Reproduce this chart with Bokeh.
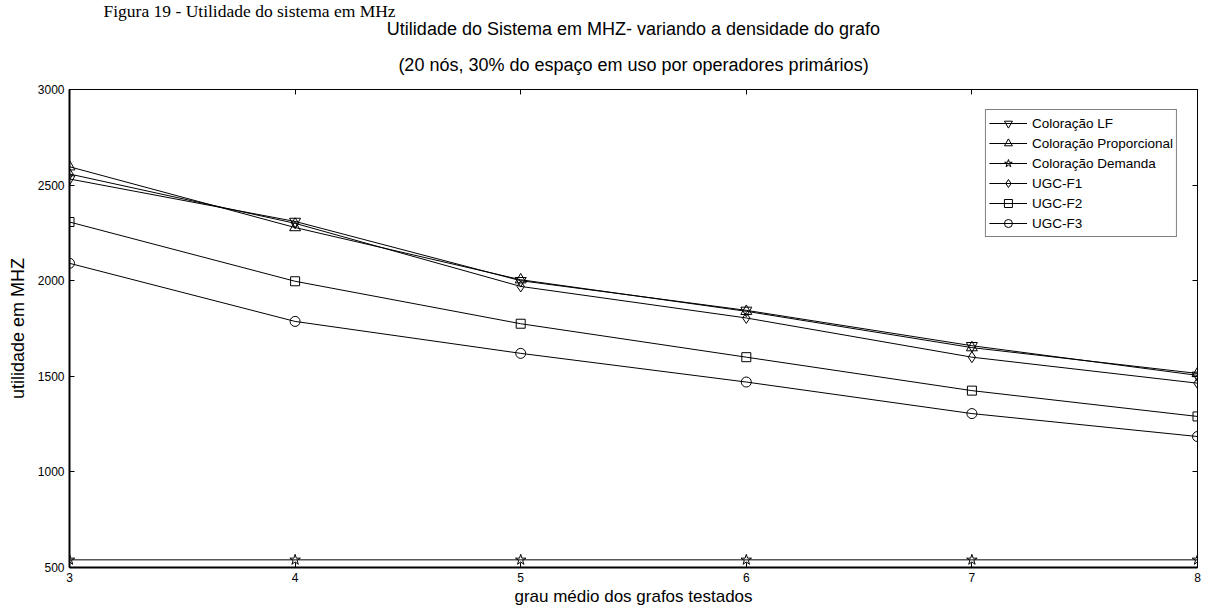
from bokeh.plotting import figure
from bokeh.models import Range1d, LinearAxis, Legend, LegendItem, FixedTicker, Title
from bokeh.embed import file_html
from bokeh.resources import INLINE

x = [3, 4, 5, 6, 7, 8]
lf = [2532, 2310, 2000, 1845, 1660, 1505]
prop = [2596, 2278, 2005, 1840, 1650, 1515]
demanda = [540, 540, 540, 540, 540, 540]
ugc_f1 = [2558, 2300, 1970, 1805, 1600, 1464]
ugc_f2 = [2307, 1997, 1775, 1600, 1425, 1290]
ugc_f3 = [2091, 1787, 1620, 1470, 1305, 1185]

names = ["Coloração LF", "Coloração Proporcional", "Coloração Demanda", "UGC-F1", "UGC-F2", "UGC-F3"]
series = [lf, prop, demanda, ugc_f1, ugc_f2, ugc_f3]
markers = ["inverted_triangle", "triangle", "star", "diamond", "square", "circle"]
msizes = [11, 11, 11, 11, 9, 10]

x_ticks = [3, 4, 5, 6, 7, 8]
y_ticks = [500, 1000, 1500, 2000, 2500, 3000]

fig_title = "Figura 19 - Utilidade do sistema em MHz"
title_lines = ["Utilidade do Sistema em MHZ- variando a densidade do grafo",
               "(20 nós, 30% do espaço em uso por operadores primários)"]

SANS = "Liberation Sans"

p = figure(width=1205, height=608, output_backend="svg", toolbar_location=None,
           x_range=Range1d(3, 8), y_range=Range1d(500, 3000),
           min_border_left=69, min_border_right=8, min_border_bottom=41, min_border_top=89,
           background_fill_color="white", border_fill_color="white")
p.grid.visible = False
p.outline_line_color = "black"
p.outline_line_width = 1

for ax in (p.xaxis[0], p.yaxis[0]):
    ax.major_tick_in = 5
    ax.major_tick_out = 0
    ax.minor_tick_line_color = None
    ax.axis_line_color = "black"
    ax.axis_line_width = 2
    ax.major_tick_line_color = "black"
    ax.major_label_text_font = SANS
    ax.major_label_text_font_size = "12px"
    ax.major_label_text_color = "black"
    ax.axis_label_text_font = SANS
    ax.axis_label_text_font_style = "normal"
    ax.axis_label_text_color = "black"

p.xaxis[0].axis_label_text_font_size = "17px"
p.yaxis[0].axis_label_text_font_size = "18px"
p.xaxis[0].ticker = FixedTicker(ticks=x_ticks)
p.yaxis[0].ticker = FixedTicker(ticks=y_ticks)
p.xaxis[0].axis_label = "grau médio dos grafos testados"
p.yaxis[0].axis_label = "utilidade em MHZ"
p.xaxis[0].major_label_standoff = 5
p.yaxis[0].major_label_standoff = 5
p.xaxis[0].axis_label_standoff = 2
p.yaxis[0].axis_label_standoff = 7

top_ax = LinearAxis(ticker=FixedTicker(ticks=x_ticks), major_label_text_font_size="1px",
                    major_label_text_color=None,
                    major_tick_in=5, major_tick_out=0, minor_tick_line_color=None,
                    axis_line_color="black", major_label_standoff=0)
right_ax = LinearAxis(ticker=FixedTicker(ticks=y_ticks), major_label_text_font_size="1px",
                      major_label_text_color=None,
                      major_tick_in=5, major_tick_out=0, minor_tick_line_color=None,
                      axis_line_color="black", major_label_standoff=0)
p.add_layout(top_ax, "above")
p.add_layout(right_ax, "right")

items = []
for name, ys, m, s in zip(names, series, markers, msizes):
    r1 = p.line(x, ys, line_color="black", line_width=1)
    r2 = p.scatter(x, ys, marker=m, size=s, line_color="black", fill_color=None, line_width=1)
    items.append(LegendItem(label=name, renderers=[r1, r2]))

legend = Legend(items=items, location="top_right")
legend.label_text_font = SANS
legend.label_text_font_size = "13.5px"
legend.label_text_color = "black"
legend.border_line_color = "black"
legend.border_line_width = 1
legend.glyph_width = 38
legend.glyph_height = 20
legend.label_height = 20
legend.spacing = 0
legend.padding = 3
legend.margin = 20
legend.label_standoff = 5
p.add_layout(legend)

t_line2 = Title(text=title_lines[1], align="center",
                text_font=SANS, text_font_size="18px", text_font_style="normal",
                text_color="black", text_line_height=0.85, standoff=0)
t_line1 = Title(text=title_lines[0], align="center",
                text_font=SANS, text_font_size="18px", text_font_style="normal",
                text_color="black", text_line_height=0.85, standoff=0)
t_fig = Title(text=fig_title, align="left", offset=34,
              text_font="Liberation Serif", text_font_size="17.5px", text_font_style="normal",
              text_color="black", text_line_height=0.85, standoff=0)

# tighten the upper title lines (negative standoff if accepted) and lift line 2 off the frame
saved = 0
for t, s in ((t_line1, -3), (t_fig, -5)):
    try:
        t.standoff = s
        saved += -s
    except Exception:
        t.standoff = 0

t_line2.standoff = 22 + saved

p.add_layout(t_line2, "above")
p.add_layout(t_line1, "above")
p.add_layout(t_fig, "above")

open("out.html", "w").write(file_html(p, INLINE))
